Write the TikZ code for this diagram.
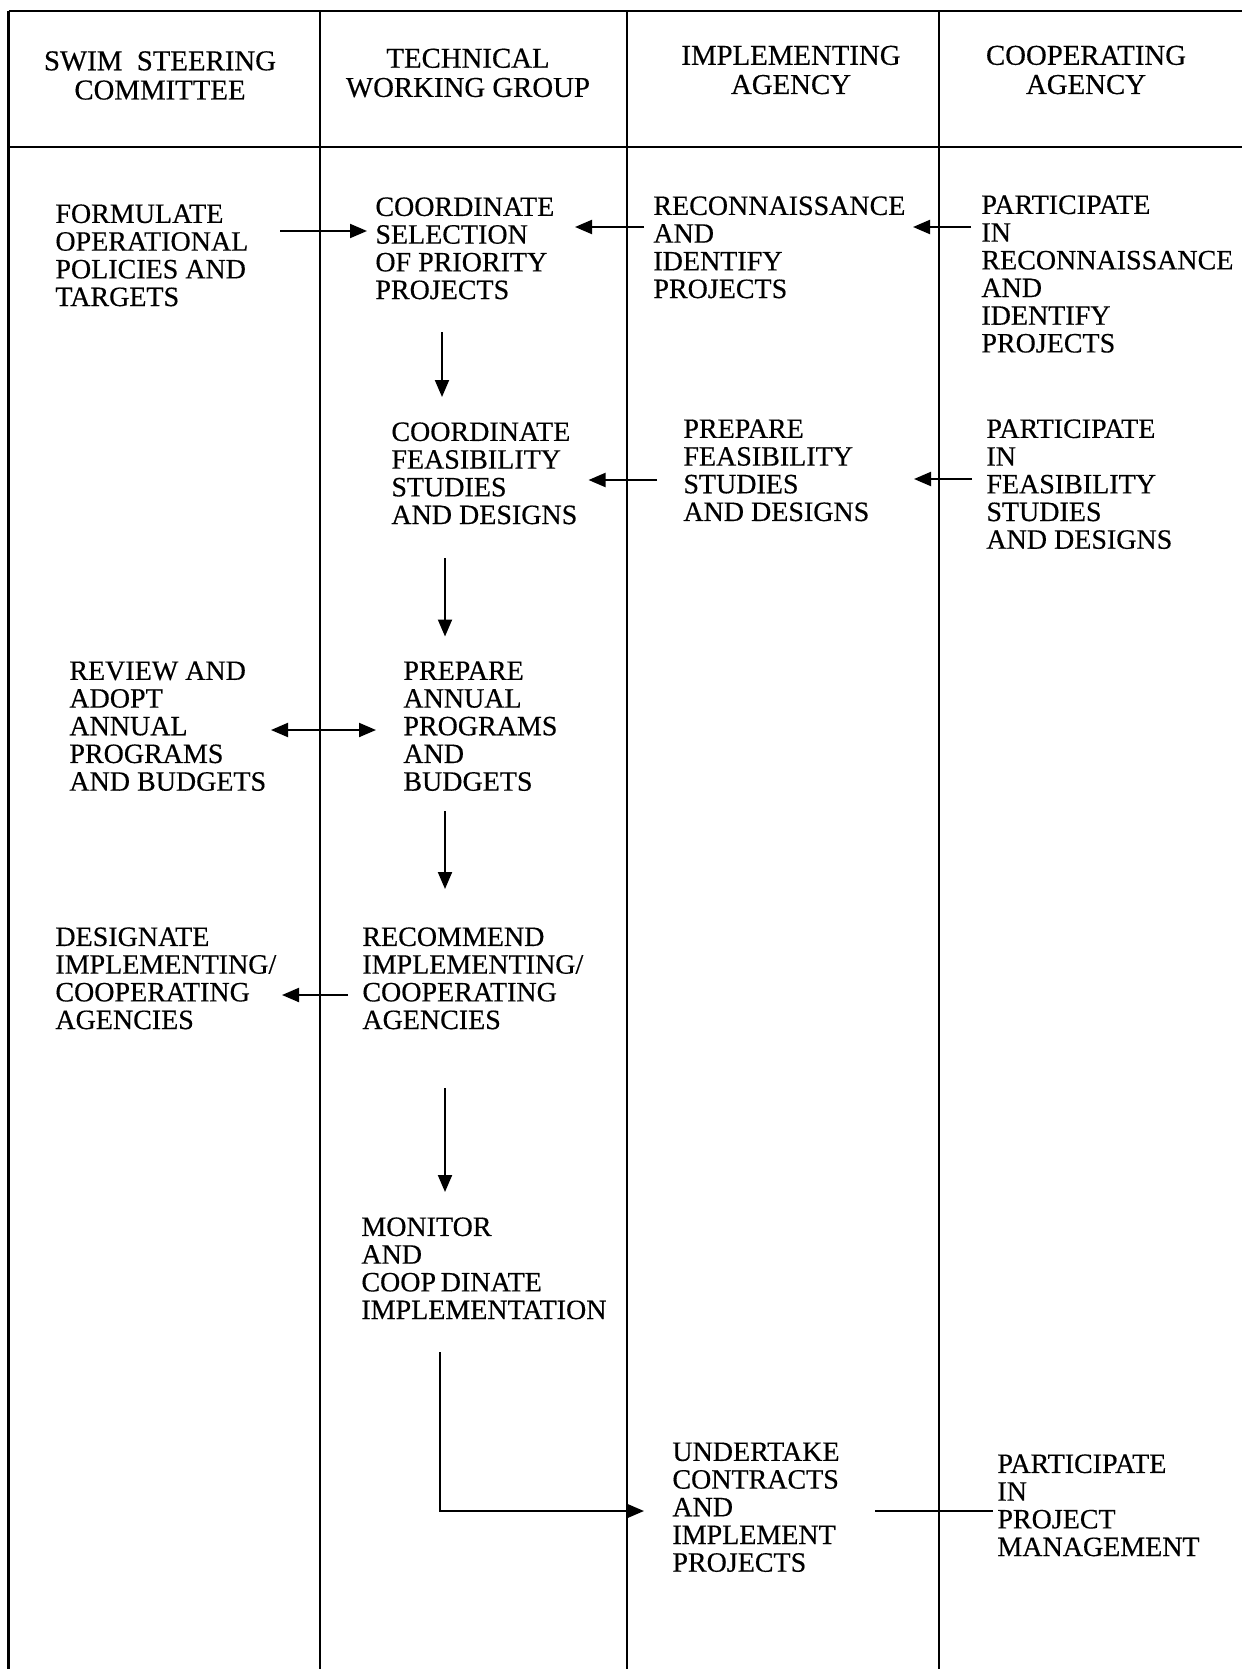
\documentclass[tikz,border=0pt]{standalone}
\usepackage{fontspec}
\setmainfont{Liberation Serif}
\newfontfamily\docfont[FakeBold=0.4]{Liberation Serif}
\usetikzlibrary{arrows.meta}
\newcommand\bodyfont{\docfont\fontsize{14}{13.85}\selectfont}
\newcommand\hdrfont{\docfont\fontsize{14.4}{14.6}\selectfont}
\tikzset{
  txt/.style={anchor=north west, inner sep=0pt, align=left, font=\bodyfont},
  hdr/.style={anchor=center, inner sep=0pt, align=center, font=\hdrfont},
  tip/.tip={Triangle[length=8.5pt,width=7pt]},
  arr/.style={-tip, line width=1pt},
  plainline/.style={line width=1pt},
  rule/.style={line width=1.2pt}
}
\begin{document}
\begin{tikzpicture}[x=0.5pt,y=-0.5pt]
\useasboundingbox (0,0) rectangle (1242,1669);
% frame
\draw[rule] (8.5,11) -- (1242,11);
\draw[rule] (8.5,147) -- (1242,147);
\foreach \xx in {8.5,320,627,939}{\draw[rule] (\xx,11) -- (\xx,1669);}
% headers
\node[hdr] (h1) at (160,75.5) {SWIM\ \ STEERING\\COMMITTEE};
\node[hdr] (h2) at (468,73) {TECHNICAL\\WORKING GROUP};
\node[hdr] (h3) at (791,70) {IMPLEMENTING\\AGENCY};
\node[hdr] (h4) at (1086,70) {COOPERATING\\AGENCY};
% body
\node[txt] (formulate) at (55,204) {FORMULATE\\OPERATIONAL\\POLICIES AND\\TARGETS};
\node[txt] (coordsel) at (375,197) {COORDINATE\\SELECTION\\OF PRIORITY\\PROJECTS};
\node[txt] (recon) at (653,196) {RECONNAISSANCE\\AND\\IDENTIFY\\PROJECTS};
\node[txt] (partrecon) at (981,195) {PARTICIPATE\\IN\\RECONNAISSANCE\\AND\\IDENTIFY\\PROJECTS};
\node[txt] (coordfeas) at (391,422) {COORDINATE\\FEASIBILITY\\STUDIES\\AND DESIGNS};
\node[txt] (prepfeas) at (683,419) {PREPARE\\FEASIBILITY\\STUDIES\\AND DESIGNS};
\node[txt] (partfeas) at (986,419) {PARTICIPATE\\IN\\FEASIBILITY\\STUDIES\\AND DESIGNS};
\node[txt] (review) at (69,661) {REVIEW AND\\ADOPT\\ANNUAL\\PROGRAMS\\AND BUDGETS};
\node[txt] (prepann) at (403,661) {PREPARE\\ANNUAL\\PROGRAMS\\AND\\BUDGETS};
\node[txt] (designate) at (55,927) {DESIGNATE\\IMPLEMENTING/\\COOPERATING\\AGENCIES};
\node[txt] (recommend) at (362,927) {RECOMMEND\\IMPLEMENTING/\\COOPERATING\\AGENCIES};
\node[txt] (monitor) at (361,1217) {MONITOR\\AND\\COOP\,DINATE\\IMPLEMENTATION};
\node[txt] (undertake) at (672,1442) {UNDERTAKE\\CONTRACTS\\AND\\IMPLEMENT\\PROJECTS};
\node[txt] (partmgmt) at (997,1454) {PARTICIPATE\\IN\\PROJECT\\MANAGEMENT};
% connectors
\draw[arr] ([shift={(225,27)}]formulate.north west) -- ([shift={(-8,34)}]coordsel.north west);
\draw[arr] ([shift={(-9,31)}]recon.north west) -- ([shift={(200,30)}]coordsel.north west);
\draw[arr] ([shift={(-10,32)}]partrecon.north west) -- ([shift={(260,31)}]recon.north west);
\draw[arr] ([shift={(67,135)}]coordsel.north west) -- ([shift={(51,-25)}]coordfeas.north west);
\draw[arr] ([shift={(-26,61)}]prepfeas.north west) -- ([shift={(197.5,58)}]coordfeas.north west);
\draw[arr] ([shift={(-14,60)}]partfeas.north west) -- ([shift={(231,60)}]prepfeas.north west);
\draw[arr] ([shift={(54,136)}]coordfeas.north west) -- ([shift={(42,-24.5)}]prepann.north west);
\draw[tip-tip, line width=1pt] ([shift={(202,69)}]review.north west) -- ([shift={(-27,69)}]prepann.north west);
\draw[arr] ([shift={(42,150)}]prepann.north west) -- ([shift={(83,-38)}]recommend.north west);
\draw[arr] ([shift={(-14,68)}]recommend.north west) -- ([shift={(227,68)}]designate.north west);
\draw[arr] ([shift={(83,161)}]recommend.north west) -- ([shift={(84,-25)}]monitor.north west);
\draw[arr] ([shift={(78.5,135)}]monitor.north west) |- ([shift={(-28,69)}]undertake.north west);
\draw[plainline] ([shift={(203,69)}]undertake.north west) -- ([shift={(-4,57)}]partmgmt.north west);
\end{tikzpicture}
\end{document}
